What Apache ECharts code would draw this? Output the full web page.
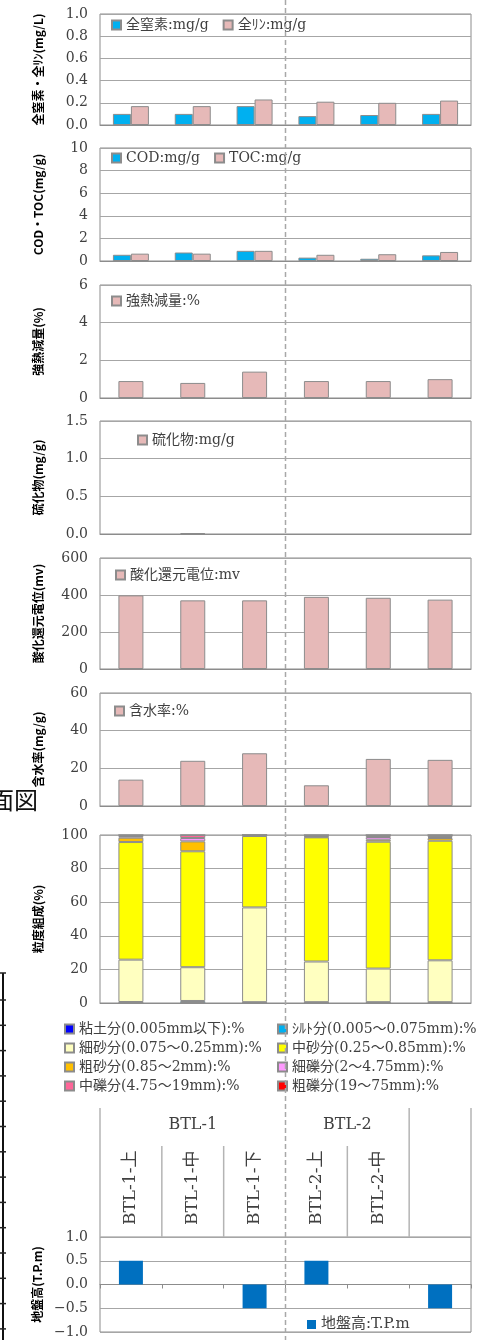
<!DOCTYPE html>
<html>
<head>
<meta charset="utf-8">
<script src="https://cdn.jsdelivr.net/npm/echarts@6/dist/echarts.min.js"></script>
<style>
  html, body { margin: 0; padding: 0; background: #fff; }
  #c { width: 499px; height: 1340px; }
</style>
</head>
<body>
<div id="c"></div>
<script>
// Sample points (6th column has no printed label)
const categories = ['BTL-1-上', 'BTL-1-中', 'BTL-1-下', 'BTL-2-上', 'BTL-2-中', ''];
const groupNames = ['BTL-1', 'BTL-2'];
const groupSpans = [3, 2];

// Nutrients (mg/g)
const totalN = [0.10, 0.10, 0.17, 0.08, 0.09, 0.10];
const totalP = [0.17, 0.17, 0.23, 0.21, 0.20, 0.22];
// Organic matter (mg/g)
const cod = [0.55, 0.75, 0.90, 0.30, 0.20, 0.50];
const toc = [0.65, 0.65, 0.90, 0.55, 0.60, 0.80];
// Ignition loss (%)
const ignitionLoss = [0.9, 0.8, 1.4, 0.9, 0.9, 1.0];
// Sulfide (mg/g)
const sulfide = [null, 0.01, null, null, null, null];
// Oxidation-reduction potential (mV)
const orp = [398, 371, 371, 390, 385, 375];
// Water content (%)
const moisture = [14, 24, 28, 11, 25, 24.5];
// Grain size composition (%)
const clay        = [0, 0, 0, 0, 0, 0];
const silt        = [0.6, 1.2, 0.5, 0.5, 0.5, 0.5];
const fineSand    = [25.2, 20.1, 56.4, 24.2, 20.0, 24.9];
const mediumSand  = [70.0, 69.0, 42.5, 73.9, 75.5, 71.2];
const coarseSand  = [2.6, 5.9, 0.3, 0.3, 1.2, 1.6];
const fineGravel  = [1.0, 2.0, 0.3, 0.5, 1.6, 0.6];
const midGravel   = [0.6, 1.8, 0, 0.6, 1.2, 1.2];
const coarseGravel= [0, 0, 0, 0, 0, 0];
// Ground elevation (T.P. m)
const groundLevel = [0.5, null, -0.5, 0.5, null, -0.5];

// Axis tick settings per panel
const yTicks = [
  { min: 0, max: 1.0, interval: 0.2, digits: 1 },
  { min: 0, max: 10, interval: 2, digits: 0 },
  { min: 0, max: 6, interval: 2, digits: 0 },
  { min: 0, max: 1.5, interval: 0.5, digits: 1 },
  { min: 0, max: 600, interval: 200, digits: 0 },
  { min: 0, max: 60, interval: 20, digits: 0 },
  { min: 0, max: 100, interval: 20, digits: 0 },
  { min: -1.0, max: 1.0, interval: 0.5, digits: 1 }
];
const yNames = ['全窒素・全ﾘﾝ(mg/L)', 'COD・TOC(mg/g)', '強熱減量(%)', '硫化物(mg/g)',
  '酸化還元電位(mv)', '含水率(mg/g)', '粒度組成(%)', '地盤高(T.P.m)'];

const SERIF = "'DejaVu Serif','Noto Sans CJK JP',serif";
const GOTHIC = "'Noto Sans CJK JP',sans-serif";
const TXT = '#404040';
const FRAME = '#8c8c8c';
const GRIDLINE = '#a6a6a6';
const PINK = '#E6B9B8';
const CYAN = '#00B0F0';

const panels = [
  { top: 14, height: 111 },
  { top: 148, height: 113 },
  { top: 285, height: 113 },
  { top: 421, height: 113 },
  { top: 558, height: 111 },
  { top: 693, height: 113 },
  { top: 835, height: 168 },
  { top: 1237, height: 95 }
];

const grid = panels.map(p => ({
  left: 100, right: 28, top: p.top, height: p.height,
  show: true, borderColor: FRAME, borderWidth: 1, backgroundColor: 'transparent'
}));

const xAxis = panels.map((p, i) => ({
  type: 'category', gridIndex: i, data: categories,
  axisLine: { show: true, onZero: i === 7, lineStyle: { color: FRAME } },
  axisTick: { show: i === 7, interval: 0, length: 4, lineStyle: { color: FRAME } },
  axisLabel: { show: false },
  splitLine: { show: false }
}));
// Sample names printed vertically above the elevation panel
xAxis.push({
  type: 'category', gridIndex: 7, data: categories, position: 'top',
  axisLine: { show: false, onZero: false },
  axisTick: { show: false },
  axisLabel: { show: true, interval: 0, rotate: -90, margin: 12,
    fontFamily: SERIF, fontSize: 17, color: TXT }
});

const yAxis = yTicks.map((t, i) => ({
  type: 'value', gridIndex: i, min: t.min, max: t.max, interval: t.interval,
  name: yNames[i], nameLocation: 'middle', nameGap: 56, nameRotate: 90,
  nameTextStyle: { fontFamily: GOTHIC, fontWeight: 'bold', fontSize: 12, color: '#000' },
  axisLine: { show: false }, axisTick: { show: false },
  axisLabel: { fontFamily: SERIF, fontSize: 14, color: TXT, margin: 12,
    formatter: v => v.toFixed(t.digits).replace('-', '−') },
  splitLine: { show: true, lineStyle: { color: GRIDLINE, width: 1 } }
}));

const barBorder = { borderColor: FRAME, borderWidth: 1 };
function bar(name, idx, data, color, extra) {
  return Object.assign({
    name, type: 'bar', xAxisIndex: idx, yAxisIndex: idx, data,
    barWidth: 25, itemStyle: Object.assign({ color }, barBorder),
    emphasis: { disabled: true }, animation: false
  }, extra || {});
}

const grainNames = ['粘土分(0.005mm以下):%', 'ｼﾙﾄ分(0.005～0.075mm):%', '細砂分(0.075～0.25mm):%',
  '中砂分(0.25～0.85mm):%', '粗砂分(0.85～2mm):%', '細礫分(2～4.75mm):%',
  '中礫分(4.75～19mm):%', '粗礫分(19～75mm):%'];
const grainData = [clay, silt, fineSand, mediumSand, coarseSand, fineGravel, midGravel, coarseGravel];
const grainColors = ['#0000FF', '#00B0F0', '#FFFFC0', '#FFFF00', '#FFC000', '#FF99FF', '#FF6699', '#FF0000'];

const series = [
  bar('全窒素:mg/g', 0, totalN, CYAN, { barWidth: 18, barGap: '0%' }),
  bar('全ﾘﾝ:mg/g', 0, totalP, PINK, { barWidth: 18, barGap: '0%' }),
  bar('COD:mg/g', 1, cod, CYAN, { barWidth: 18, barGap: '0%' }),
  bar('TOC:mg/g', 1, toc, PINK, { barWidth: 18, barGap: '0%' }),
  bar('強熱減量:%', 2, ignitionLoss, PINK),
  bar('硫化物:mg/g', 3, sulfide, PINK),
  bar('酸化還元電位:mv', 4, orp, PINK),
  bar('含水率:%', 5, moisture, PINK)
];
grainNames.forEach((n, k) => {
  series.push(bar(n, 6, grainData[k], grainColors[k], { stack: 'grain' }));
});
series.push(bar('地盤高:T.P.m', 7, groundLevel, '#0070C0',
  { barWidth: 24, itemStyle: { color: '#0070C0', borderWidth: 0 } }));

const legendBase = {
  icon: 'rect', itemWidth: 9, itemHeight: 9, itemGap: 14, selectedMode: false,
  textStyle: { fontFamily: SERIF, fontSize: 14, color: TXT }, padding: 0
};
const grainLegendText = { fontFamily: SERIF, fontSize: 14, color: TXT, lineHeight: 14 };
const legend = [
  Object.assign({}, legendBase, { data: ['全窒素:mg/g', '全ﾘﾝ:mg/g'], left: 111, top: 18 }),
  Object.assign({}, legendBase, { data: ['COD:mg/g', 'TOC:mg/g'], left: 111, top: 151 }),
  Object.assign({}, legendBase, { data: ['強熱減量:%'], left: 111, top: 294 }),
  Object.assign({}, legendBase, { data: ['硫化物:mg/g'], left: 137, top: 433 }),
  Object.assign({}, legendBase, { data: ['酸化還元電位:mv'], left: 115, top: 568 }),
  Object.assign({}, legendBase, { data: ['含水率:%'], left: 114, top: 704 }),
  Object.assign({}, legendBase, { data: [grainNames[0], grainNames[2], grainNames[4], grainNames[6]],
    orient: 'vertical', left: 64, top: 1022, itemGap: 5, textStyle: grainLegendText }),
  Object.assign({}, legendBase, { data: [grainNames[1], grainNames[3], grainNames[5], grainNames[7]],
    orient: 'vertical', left: 277, top: 1022, itemGap: 5, textStyle: grainLegendText }),
  Object.assign({}, legendBase, { data: ['地盤高:T.P.m'], left: 307, top: 1317,
    textStyle: { fontFamily: SERIF, fontSize: 15, color: TXT } })
];

const chart = echarts.init(document.getElementById('c'), null, { renderer: 'canvas' });
chart.setOption({ animation: false, grid, xAxis, yAxis, series, legend });

// Header table above the elevation panel, laid out on the category axis
const hdr = 7;
const c0 = chart.convertToPixel({ xAxisIndex: hdr }, 0);
const c1 = chart.convertToPixel({ xAxisIndex: hdr }, 1);
const bw = c1 - c0;
const edge = i => c0 - bw / 2 + i * bw;
const plotTop = panels[hdr].top;
const headTop = plotTop - 129;
const subTop = plotTop - 91;
const graphics = [];
const line = (x, y1, y2, style) => graphics.push({
  type: 'line', shape: { x1: x, y1, x2: x, y2 }, silent: true,
  style: Object.assign({ stroke: '#b4b4b4', lineWidth: 1.5 }, style || {})
});

let start = 0;
const groupEdges = [0];
groupNames.forEach((g, k) => {
  const end = start + groupSpans[k];
  graphics.push({
    type: 'text', silent: true,
    style: { text: g, x: (edge(start) + edge(end)) / 2, y: headTop + 17, align: 'center',
      verticalAlign: 'middle', font: '16px ' + SERIF, fill: TXT }
  });
  groupEdges.push(end);
  start = end;
});
groupEdges.push(categories.length);
const dashedEdge = groupSpans[0];
for (let i = 0; i <= categories.length; i++) {
  if (i === dashedEdge) continue;
  const top = groupEdges.includes(i) ? headTop : subTop;
  line(edge(i), top, plotTop);
}
// Divider between the two sites, running the full height
graphics.push({
  type: 'line', silent: true, z: 100,
  shape: { x1: edge(dashedEdge), y1: 0, x2: edge(dashedEdge), y2: 1340 },
  style: { stroke: '#a8a8a8', lineWidth: 1.5, lineDash: [5, 3] }
});

// Edge of the neighbouring sheet: ruled frame and caption
const ruler = { stroke: '#222', lineWidth: 1.5 };
graphics.push({ type: 'line', silent: true, shape: { x1: 3, y1: 973, x2: 3, y2: 1340 },
  style: { stroke: '#111', lineWidth: 2 } });
graphics.push({ type: 'line', silent: true, shape: { x1: 0, y1: 973, x2: 6, y2: 973 }, style: ruler });
for (let y = 1000; y < 1340; y += 25.3) {
  graphics.push({ type: 'line', silent: true, shape: { x1: 0, y1: y, x2: 6, y2: y }, style: ruler });
}
graphics.push({
  type: 'text', silent: true,
  style: { text: '面図', x: 38, y: 800, align: 'right', verticalAlign: 'middle',
    font: '24px ' + GOTHIC, fill: '#111' }
});
chart.setOption({ graphic: graphics });
</script>
</body>
</html>
